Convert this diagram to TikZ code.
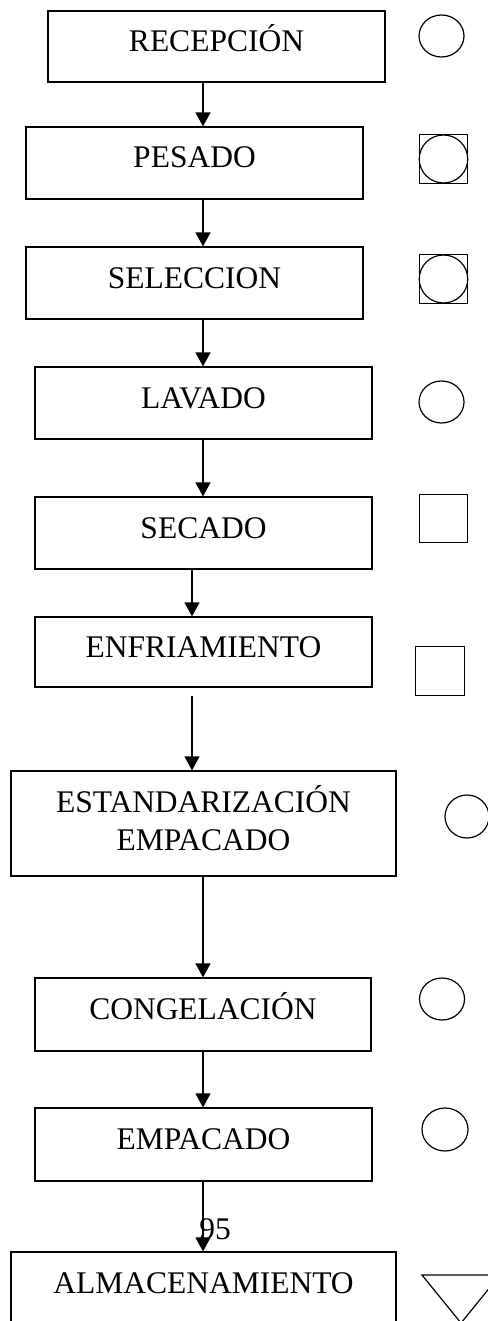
\documentclass[tikz,border=0pt]{standalone}
\usepackage{fontspec}
\setmainfont{Liberation Serif}
\usetikzlibrary{arrows.meta,shapes.geometric}
\begin{document}
\begin{tikzpicture}[x=1pt,y=-1pt,
  box/.style={draw, line width=1.2pt, inner sep=0pt, minimum width=337pt, minimum height=72pt,
    text height=24pt, text depth=14pt, font=\fontsize{31.5}{38}\selectfont},
  arr/.style={line width=1.3pt, -{Triangle[width=15pt,length=14pt]}},
  circ/.style={draw, line width=1.2pt, ellipse, inner sep=0pt, minimum width=45pt, minimum height=42pt},
  sq/.style={draw, line width=1.2pt, rectangle, inner sep=0pt, minimum size=48.5pt},
  sqc/.style={draw, line width=1.2pt, ellipse, inner sep=0pt, minimum width=48.5pt, minimum height=48pt}]
\useasboundingbox (0,0) rectangle (487,1321);
\coordinate (ax) at (203,0);
\coordinate (bx) at (192,0);
% process boxes
\node[box, minimum height=71pt] (recep) at (216.5,46.5) {RECEPCIÓN};
\node[box] (pesado) at (194.5,163) {PESADO};
\node[box] (selec) at (194.5,283) {SELECCION};
\node[box] (lavado) at (203.5,403) {LAVADO};
\node[box] (secado) at (203.5,533) {SECADO};
\node[box, minimum height=70pt] (enfri) at (203.5,652) {ENFRIAMIENTO};
\node[box, minimum width=385pt, minimum height=105pt, text height=, text depth=12pt, align=center] (estand) at (203.5,823.5) {ESTANDARIZACIÓN\\EMPACADO};
\node[box, minimum width=336pt, minimum height=73pt] (congel) at (203,1014.5) {CONGELACIÓN};
\node[box, minimum height=73pt] (empac) at (203.5,1144.5) {EMPACADO};
\node[box, minimum width=385pt] (almac) at (203.5,1288) {ALMACENAMIENTO};
% page number
\node[inner sep=0pt, font=\fontsize{31.5}{38}\selectfont] (pg) at (215,1229) {95};
% arrows
\draw[arr] (recep.south -| ax) -- (pesado.north -| ax);
\draw[arr] (pesado.south -| ax) -- (selec.north -| ax);
\draw[arr] (selec.south -| ax) -- (lavado.north -| ax);
\draw[arr] (lavado.south -| ax) -- (secado.north -| ax);
\draw[arr] (secado.south -| bx) -- (enfri.north -| bx);
\draw[arr] ([yshift=-8pt]enfri.south -| bx) -- (estand.north -| bx);
\draw[arr] (estand.south -| ax) -- (congel.north -| ax);
\draw[arr] (congel.south -| ax) -- (empac.north -| ax);
\draw[arr] (empac.south -| ax) -- (almac.north -| ax);
% symbols
\node[circ] (s1) at (441.5,36) {};
\node[sq] (s2) at (443.5,159) {};
\node[sqc] (s2c) at (443.5,159) {};
\node[sq] (s3) at (443.5,279) {};
\node[sqc] (s3c) at (443.5,279) {};
\node[circ] (s4) at (441.5,402) {};
\node[sq] (s5) at (443.5,518.5) {};
\node[sq] (s6) at (440,671) {};
\node[circ, minimum width=44pt, minimum height=43pt] (s7) at (467,816.5) {};
\node[circ] (s8) at (442,999) {};
\node[circ, minimum width=46pt, minimum height=43pt] (s9) at (445,1129.5) {};
\draw[line width=1.2pt] (422,1275) -- (500,1275) -- (461,1323) -- cycle;
\end{tikzpicture}
\end{document}
